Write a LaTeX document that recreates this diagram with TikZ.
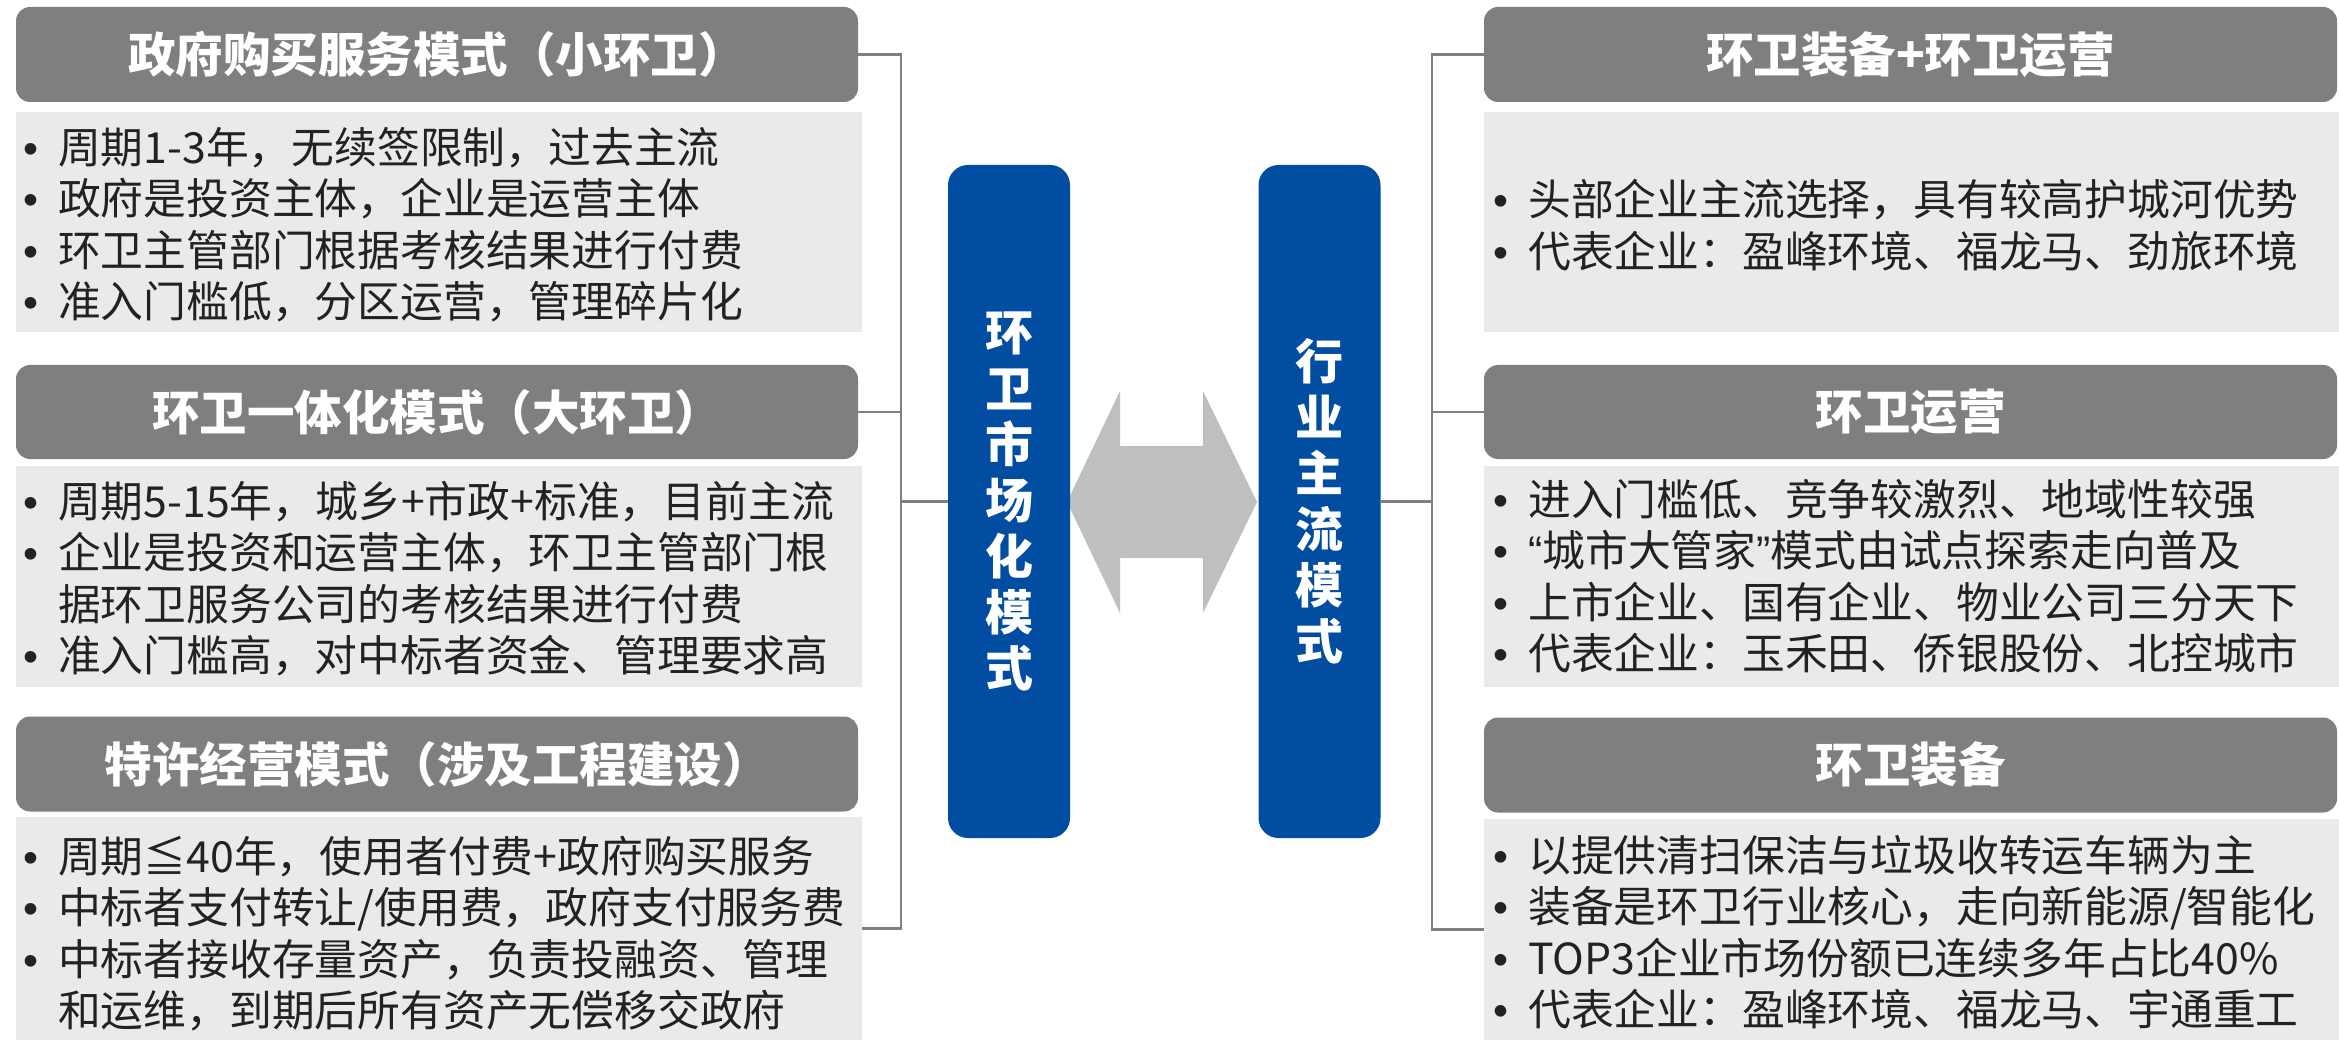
\documentclass[tikz,border=0pt]{standalone}
\usepackage{fontspec}
\setmainfont{Noto Sans CJK SC}
\newfontfamily\latbul{Liberation Sans}
\definecolor{hdr}{HTML}{7F7F7F}
\definecolor{bdy}{HTML}{EAEAEC}
\definecolor{blu}{HTML}{004DA1}
\definecolor{arr}{HTML}{BFBFBF}
\definecolor{txt}{HTML}{222222}
\definecolor{lnc}{HTML}{808080}
\newcommand{\bu}{{\latbul\char"2022}}
\begin{document}
\begin{tikzpicture}[x=1pt,y=-1pt,
  hdrbox/.style={fill=hdr, rounded corners=14pt, inner sep=0pt, text=white,
    font=\fontsize{47.5}{56}\selectfont\bfseries},
  bdybox/.style={fill=bdy, inner sep=0pt},
  bodytxt/.style={anchor=west, inner sep=0pt, text=txt, font=\fontsize{42.8}{51}\selectfont},
  bluebox/.style={fill=blu, rounded corners=20pt, inner sep=0pt, minimum width=122pt,
    minimum height=673pt, text=white, font=\fontsize{48}{56}\selectfont\bfseries, align=center},
  conn/.style={draw=lnc, line width=2.3pt}]
\useasboundingbox (0,0) rectangle (2339,1040);
\fill[white] (0,0) rectangle (2339,1040);

% left column
\node[hdrbox, minimum width=842pt, minimum height=95pt] (lh1) at (437,54.5) {政府购买服务模式（小环卫）};
\node[bdybox, minimum width=846pt, minimum height=220pt] (lb1) at (439,222) {};
\node[hdrbox, minimum width=842pt, minimum height=94pt] (lh2) at (437,412) {环卫一体化模式（大环卫）};
\node[bdybox, minimum width=846pt, minimum height=221pt] (lb2) at (439,576.5) {};
\node[hdrbox, minimum width=842pt, minimum height=95pt] (lh3) at (437,764) {特许经营模式（涉及工程建设）};
\node[bdybox, minimum width=846pt, minimum height=223pt] (lb3) at (439,928.5) {};

\node[bodytxt] (lt1) at (23,230) {\begin{tabular}{@{}l@{\hspace{20pt}}l@{}}
\bu & 周期1-3年，无续签限制，过去主流\\
\bu & 政府是投资主体，企业是运营主体\\
\bu & 环卫主管部门根据考核结果进行付费\\
\bu & 准入门槛低，分区运营，管理碎片化
\end{tabular}};
\node[bodytxt] (lt2) at (23,584) {\begin{tabular}{@{}l@{\hspace{20pt}}l@{}}
\bu & 周期5-15年，城乡+市政+标准，目前主流\\
\bu & 企业是投资和运营主体，环卫主管部门根\\
 & 据环卫服务公司的考核结果进行付费\\
\bu & 准入门槛高，对中标者资金、管理要求高
\end{tabular}};
\node[bodytxt] (lt3) at (23,939) {\begin{tabular}{@{}l@{\hspace{20pt}}l@{}}
\bu & 周期≦40年，使用者付费+政府购买服务\\
\bu & 中标者支付转让/使用费，政府支付服务费\\
\bu & 中标者接收存量资产，负责投融资、管理\\
 & 和运维，到期后所有资产无偿移交政府
\end{tabular}};

% right column
\node[hdrbox, minimum width=853pt, minimum height=95pt] (rh1) at (1910.5,54.5) {环卫装备+环卫运营};
\node[bdybox, minimum width=855pt, minimum height=220pt] (rb1) at (1911.5,222) {};
\node[hdrbox, minimum width=853pt, minimum height=94pt] (rh2) at (1910.5,412) {环卫运营};
\node[bdybox, minimum width=855pt, minimum height=221pt] (rb2) at (1911.5,576.5) {};
\node[hdrbox, minimum width=853pt, minimum height=95pt] (rh3) at (1910.5,765) {环卫装备};
\node[bdybox, minimum width=855pt, minimum height=221pt] (rb3) at (1911.5,929.5) {};

\node[bodytxt] (rt1) at (1493,231) {\begin{tabular}{@{}l@{\hspace{20pt}}l@{}}
\bu & 头部企业主流选择，具有较高护城河优势\\
\bu & 代表企业：盈峰环境、福龙马、劲旅环境
\end{tabular}};
\node[bodytxt] (rt2) at (1493,582) {\begin{tabular}{@{}l@{\hspace{20pt}}l@{}}
\bu & 进入门槛低、竞争较激烈、地域性较强\\
\bu & {\latbul “}城市大管家{\latbul ”}模式由试点探索走向普及\\
\bu & 上市企业、国有企业、物业公司三分天下\\
\bu & 代表企业：玉禾田、侨银股份、北控城市
\end{tabular}};
\node[bodytxt] (rt3) at (1493,938) {\begin{tabular}{@{}l@{\hspace{20pt}}l@{}}
\bu & 以提供清扫保洁与垃圾收转运车辆为主\\
\bu & 装备是环卫行业核心，走向新能源/智能化\\
\bu & TOP3企业市场份额已连续多年占比40\%\\
\bu & 代表企业：盈峰环境、福龙马、宇通重工
\end{tabular}};

% central double arrow
\fill[arr] (1067,502) -- (1120,391) -- (1120,446) -- (1203,446) -- (1203,391)
  -- (1257,502) -- (1203,613) -- (1203,558) -- (1120,558) -- (1120,613) -- cycle;

% central boxes
\node[bluebox] (cl) at (1009,501.5) {环\\卫\\市\\场\\化\\模\\式};
\node[bluebox] (cr) at (1319.5,501.5) {行\\业\\主\\流\\模\\式};

% connectors
\coordinate (lbus) at (901,0);
\coordinate (rbus) at (1432,0);
\draw[conn] (lh1.east) -- (lh1.east -| lbus) -- (lb3.east -| lbus) -- (lb3.east);
\draw[conn] (lh2.east) -- (lh2.east -| lbus);
\draw[conn] (cl.west -| lbus) -- (cl.west);
\draw[conn] (rh1.west) -- (rh1.west -| rbus) -- (rb3.west -| rbus) -- (rb3.west);
\draw[conn] (rh2.west) -- (rh2.west -| rbus);
\draw[conn] (cr.east) -- (cr.east -| rbus);
\end{tikzpicture}
\end{document}
